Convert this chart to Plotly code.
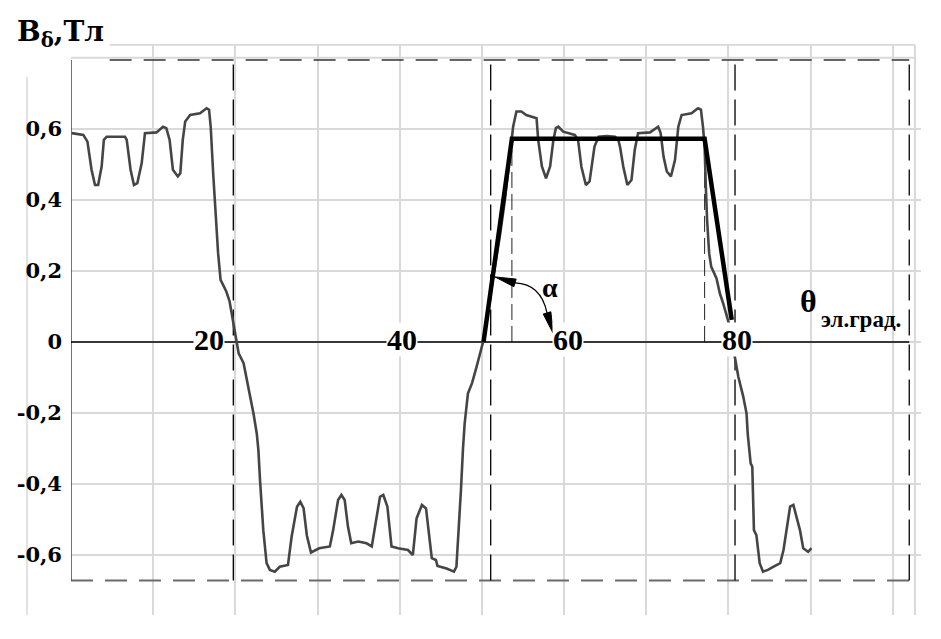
import plotly.graph_objects as go

# ---- data ----
theta = [0.08, 1.5, 2.0, 2.5, 2.92, 3.3, 3.73, 4.0, 4.34, 6.57, 6.78, 7.25, 7.66, 8.07, 8.6, 9.0,
         10.4, 11.2, 11.6, 12.0, 12.4, 13.0, 13.3, 13.6, 13.9, 14.5, 15.7, 16.5, 16.8, 17.0, 17.3,
         17.6, 17.9, 18.2, 18.9, 19.3, 19.7, 20.0, 20.4, 21.0, 21.6, 22.2, 22.6, 22.8, 23.0, 23.4,
         23.8, 24.2, 24.8, 25.4, 26.4, 26.85, 27.5, 27.9, 28.3, 28.7, 29.2, 30.2, 31.5, 31.9, 32.5,
         32.9, 33.3, 33.7, 34.1, 34.95, 35.96, 36.6, 37.0, 37.6, 38.0, 38.5, 39.0, 39.8, 41.0, 41.6,
         42.05, 42.7, 43.2, 43.7, 43.9, 44.4, 44.6, 45.7, 46.6, 46.9, 47.2, 47.45, 47.7, 47.9, 48.3,
         48.8, 49.35, 49.75, 50.1, 50.8, 51.5, 52.2, 52.8, 53.3, 53.8, 54.2, 54.8, 55.4, 56.0, 56.65,
         56.85, 57.3, 57.8, 58.3, 58.7, 59.0, 59.3, 59.9, 61.3, 61.7, 62.1, 62.65, 63.1, 63.7, 64.2,
         65.2, 66.2, 66.6, 66.8, 67.2, 67.7, 68.2, 68.6, 69.0, 70.45, 71.45, 71.75, 72.1, 72.5, 73.0,
         73.5, 73.9, 74.3, 75.5, 76.3, 76.65, 76.9, 77.1, 77.25, 77.4, 77.65, 77.9, 78.55, 78.95,
         79.35, 79.8, 80.4, 80.7, 81.2, 81.8, 82.2, 82.35, 82.7, 82.9, 83.0, 83.1, 83.4, 83.8, 84.2,
         84.8, 85.5, 86.3, 86.7, 87.1, 87.5, 87.9, 88.3, 88.7, 89.1, 89.7, 90.1]
b_delta = [0.588, 0.583, 0.564, 0.485, 0.442, 0.442, 0.494, 0.569, 0.578, 0.578, 0.569, 0.485, 0.442,
           0.447, 0.503, 0.588, 0.590, 0.606, 0.602, 0.569, 0.485, 0.466, 0.475, 0.569, 0.621, 0.639,
           0.644, 0.658, 0.654, 0.606, 0.475, 0.344, 0.250, 0.175, 0.142, 0.114, 0.062, 0.024, -0.032,
           -0.060, -0.126, -0.201, -0.257, -0.304, -0.389, -0.530, -0.623, -0.642, -0.647, -0.633,
           -0.628, -0.548, -0.464, -0.450, -0.468, -0.545, -0.593, -0.581, -0.576, -0.530, -0.445,
           -0.431, -0.445, -0.520, -0.567, -0.562, -0.567, -0.576, -0.520, -0.436, -0.431, -0.464,
           -0.576, -0.581, -0.586, -0.600, -0.497, -0.459, -0.469, -0.567, -0.609, -0.614, -0.631,
           -0.638, -0.647, -0.633, -0.530, -0.417, -0.300, -0.230, -0.145, -0.116, -0.070, -0.032,
           -0.004, 0.100, 0.200, 0.300, 0.400, 0.500, 0.606, 0.649, 0.649, 0.639, 0.635, 0.630, 0.569,
           0.494, 0.461, 0.494, 0.569, 0.602, 0.606, 0.592, 0.583, 0.569, 0.494, 0.442, 0.452, 0.550,
           0.578, 0.580, 0.578, 0.569, 0.550, 0.494, 0.442, 0.456, 0.541, 0.588, 0.590, 0.606, 0.588,
           0.522, 0.480, 0.466, 0.513, 0.606, 0.639, 0.644, 0.658, 0.654, 0.606, 0.550, 0.437, 0.344,
           0.250, 0.212, 0.179, 0.137, 0.109, 0.071, 0.024, -0.032, -0.098, -0.154, -0.201, -0.260,
           -0.342, -0.351, -0.436, -0.530, -0.544, -0.623, -0.647, -0.642, -0.633, -0.623, -0.586,
           -0.520, -0.464, -0.459, -0.492, -0.530, -0.581, -0.591, -0.581]

trap_theta = [50.2, 53.65, 77.1, 80.4]
trap_b = [0.0, 0.572, 0.572, 0.062]

y_tick_vals = [0.6, 0.4, 0.2, 0, -0.2, -0.4, -0.6]
y_tick_text = ["0,6", "0,4", "0,2", "0", "-0,2", "-0,4", "-0,6"]
x_label_vals = [20, 40, 60, 80]
x_label_text = ["20", "40", "60", "80"]

box_x = [19.75, 51.07, 80.8, 102.0]
box_top, box_bottom = 0.794, -0.672
GRID = "#d9d9d9"

# ---- figure ----
fig = go.Figure()
fig.add_trace(go.Scatter(x=theta, y=b_delta, mode="lines",
                         line=dict(color="#454545", width=2.6), hoverinfo="skip"))
fig.add_trace(go.Scatter(x=trap_theta, y=trap_b, mode="lines",
                         line=dict(color="black", width=4.5), hoverinfo="skip"))

shapes = []
# extra grid row at 0.8 (no label) and grid border (top / right)
shapes.append(dict(type="line", x0=0, x1=102.7, y0=0.8, y1=0.8, layer="below",
                   line=dict(color=GRID, width=2)))
shapes.append(dict(type="line", x0=4.7, x1=102.7, y0=0.837, y1=0.837, layer="below",
                   line=dict(color=GRID, width=2)))
shapes.append(dict(type="line", x0=102.7, x1=102.7, y0=-0.769, y1=0.837, layer="below",
                   line=dict(color=GRID, width=2)))
shapes.append(dict(type="line", xref="paper", yref="paper", x0=-0.0518, x1=-0.0518, y0=0, y1=0.942,
                   layer="below", line=dict(color="#e2e2e2", width=2)))
# dashed frame
shapes.append(dict(type="line", x0=4.7, x1=box_x[-1], y0=box_top, y1=box_top, layer="between",
                   line=dict(color="#333", width=1.5, dash="22px,12px")))
shapes.append(dict(type="line", x0=0, x1=box_x[-1], y0=box_bottom, y1=box_bottom, layer="between",
                   line=dict(color="#6a6a6a", width=2, dash="22px,12px")))
for bx in box_x:
    shapes.append(dict(type="line", x0=bx, x1=bx, y0=box_bottom, y1=box_top, layer="between",
                       line=dict(color="black", width=1.3, dash="26px,9px")))
# dashed drops from the trapezoid corners
for tx in trap_theta[1:3]:
    shapes.append(dict(type="line", x0=tx, x1=tx, y0=0, y1=trap_b[1], layer="between",
                       line=dict(color="#222", width=1, dash="16px,6px")))
# left axis line and zero line
shapes.append(dict(type="line", x0=0, x1=0, y0=box_bottom, y1=box_top, layer="between",
                   line=dict(color="#444", width=1.5)))
shapes.append(dict(type="line", x0=0, x1=box_x[-1], y0=0, y1=0, layer="between",
                   line=dict(color="black", width=1.5)))
# alpha arrow: arc + two wedge heads
shapes.append(dict(type="path", path="M 54.03 0.1662 Q 57.19 0.1634 57.92 0.0817",
                   line=dict(color="black", width=1.2), layer="above"))
shapes.append(dict(type="path", path="M 51.59 0.1831 L 53.89 0.1555 L 54.17 0.1769 Z",
                   fillcolor="black", line=dict(color="black", width=1), layer="above"))
shapes.append(dict(type="path", path="M 58.65 0.0254 L 58.39 0.0849 L 57.46 0.0785 Z",
                   fillcolor="black", line=dict(color="black", width=1), layer="above"))

annotations = []
x_shift = [-26, 2, 4, 9]
for v, t, s in zip(x_label_vals, x_label_text, x_shift):
    annotations.append(dict(x=v, y=0, xref="x", yref="y", text=t, showarrow=False,
                            xshift=s, yshift=2, bgcolor="white", borderpad=0,
                            font=dict(family="Liberation Serif", size=30, color="black", weight="bold")))
annotations.append(dict(x=-0.0659, y=1.0, xref="paper", yref="paper", xanchor="left", yanchor="bottom",
                        yshift=-10, text="B<sub>δ</sub>,Тл", showarrow=False,
                        font=dict(family="DejaVu Serif", size=28, color="black", weight="bold")))
annotations.append(dict(x=89.7, y=0.114, xref="x", yref="y", text="θ", showarrow=False,
                        font=dict(family="Liberation Serif", size=32, color="black", weight="bold")))
annotations.append(dict(x=91.0, y=0.062, xref="x", yref="y", xanchor="left", text="эл.град.",
                        showarrow=False,
                        font=dict(family="Liberation Serif", size=23, color="black", weight="bold")))
annotations.append(dict(x=58.3, y=0.154, xref="x", yref="y", text="α", showarrow=False,
                        font=dict(family="Liberation Serif", size=28, color="black", weight="bold")))

# the page body adds an 8px offset, so the figure is 8px smaller and margins shifted
fig.update_layout(
    width=933, height=631,
    margin=dict(l=63, r=20, t=36, b=24, autoexpand=False),
    paper_bgcolor="white", plot_bgcolor="white",
    showlegend=False,
    shapes=shapes, annotations=annotations,
    xaxis=dict(range=[0, 103.43], tick0=0, dtick=10, showgrid=True, gridcolor=GRID,
               gridwidth=2, showticklabels=False, zeroline=False, showline=False, ticks="",
               automargin=False),
    yaxis=dict(range=[-0.769, 0.839], tickvals=y_tick_vals, ticktext=y_tick_text,
               showgrid=True, gridcolor=GRID, gridwidth=2, zeroline=False, showline=False,
               ticks="", ticklabelstandoff=8, automargin=False,
               tickfont=dict(family="DejaVu Serif", size=21, color="black", weight="bold")),
)

fig.write_html("out.html")
